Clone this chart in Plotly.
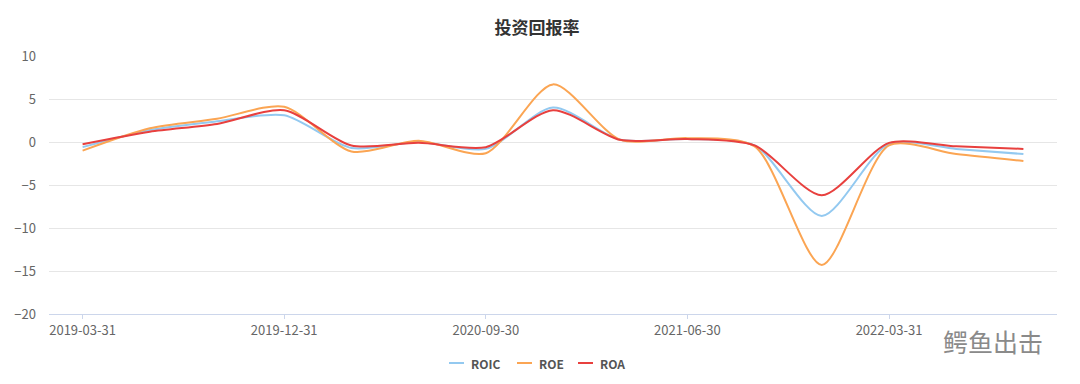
import plotly.graph_objects as go

categories = ["2019-03-31", "2019-06-30", "2019-09-30", "2019-12-31",
              "2020-03-31", "2020-06-30", "2020-09-30", "2020-12-31",
              "2021-03-31", "2021-06-30", "2021-09-30", "2021-12-31",
              "2022-03-31", "2022-06-30", "2022-09-30"]
roic = [-0.6, 1.4, 2.4, 3.1, -0.7, 0.0, -0.8, 4.0, 0.25, 0.35, -0.4, -8.6, -0.2, -0.8, -1.4]
roe = [-1.0, 1.6, 2.7, 4.1, -1.1, 0.15, -1.3, 6.7, 0.25, 0.45, -0.5, -14.3, -0.4, -1.4, -2.2]
roa = [-0.25, 1.2, 2.1, 3.7, -0.4, -0.1, -0.6, 3.7, 0.25, 0.35, -0.4, -6.2, -0.1, -0.5, -0.8]
tick_labels = ["2019-03-31", "2019-12-31", "2020-09-30", "2021-06-30", "2022-03-31"]
y_ticks = [-20, -15, -10, -5, 0, 5, 10]

series = [("ROIC", roic, "#93c9f0"), ("ROE", roe, "#fba553"), ("ROA", roa, "#e8403e")]

FONT = "Noto Sans CJK SC, Noto Sans, sans-serif"
W, H = 1080, 384
L, R, T, B = 49, 23, 56, 70
PW, PH = W - L - R, H - T - B


def px(xp):
    return (xp - L) / PW


def py(yp):
    return (H - B - yp) / PH


fig = go.Figure()
for name, vals, color in series:
    fig.add_trace(go.Scatter(
        x=categories, y=vals, name=name, mode="lines",
        line=dict(color=color, width=2, shape="spline", smoothing=0.75),
        hoverinfo="x+y+name", showlegend=False,
    ))

fig.update_layout(
    width=W, height=H,
    margin=dict(l=L, r=R, t=T, b=B, autoexpand=False),
    paper_bgcolor="white", plot_bgcolor="white",
    title=dict(text="投资回报率", x=px(537), xref="paper", xanchor="center",
               y=1 - 28 / H, yanchor="middle",
               font=dict(family=FONT, size=17, color="#333333", weight="bold")),
    showlegend=False,
    font=dict(family=FONT, size=12, color="#666666"),
)

fig.update_xaxes(
    type="category", categoryorder="array", categoryarray=categories,
    range=[-0.5, len(categories) - 0.5],
    tickmode="array", tickvals=tick_labels, ticktext=tick_labels,
    ticks="outside", ticklen=4, tickcolor="#ccd6eb",
    showline=True, linecolor="#ccd6eb", linewidth=1,
    showgrid=False, zeroline=False,
    tickfont=dict(family=FONT, size=13, color="#666666"),
)
fig.update_yaxes(
    range=[-20, 10], tickmode="array", tickvals=y_ticks,
    showgrid=True, gridcolor="#e6e6e6", gridwidth=1,
    zeroline=False, showline=False, ticks="",
    ticklabelstandoff=12,
    tickfont=dict(family=FONT, size=13, color="#666666"),
)

# manual legend (short line symbols, bold labels)
legend_pos = [449, 517, 578]
for (name, _, color), x0 in zip(series, legend_pos):
    fig.add_shape(type="line", xref="paper", yref="paper",
                  x0=px(x0), x1=px(x0 + 15), y0=py(363), y1=py(363),
                  line=dict(color=color, width=2))
    fig.add_annotation(text=name, xref="paper", yref="paper", x=px(x0 + 20), y=py(363),
                       xanchor="left", yanchor="middle", showarrow=False,
                       font=dict(family=FONT, size=12, color="#555555", weight="bold"))

# watermark text
fig.add_annotation(text="鳄鱼出击", xref="paper", yref="paper",
                   x=px(993), y=py(341), showarrow=False,
                   font=dict(family=FONT, size=25, color="#8a8a8a"), xanchor="center", yanchor="middle")

fig.write_html("out.html")
